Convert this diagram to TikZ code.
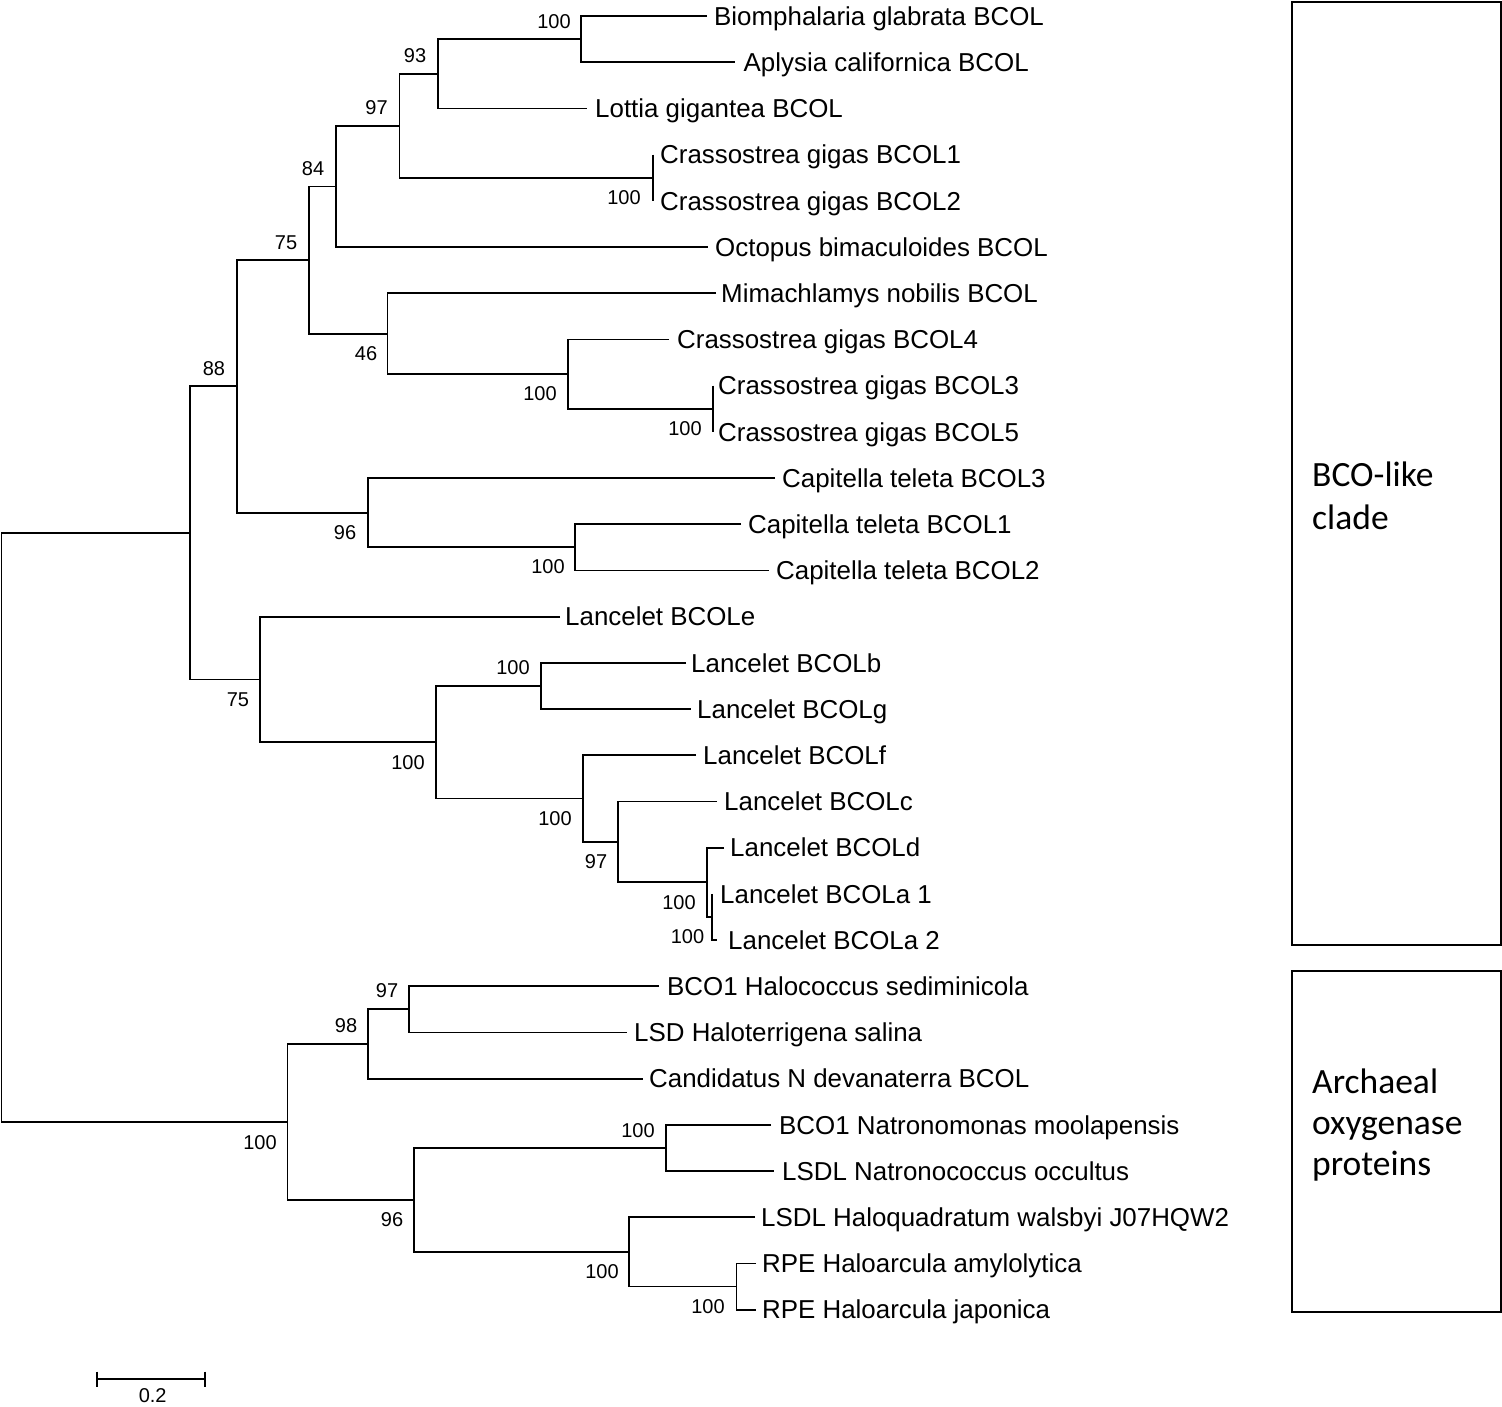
\documentclass[tikz,border=0pt]{standalone}
\usepackage{fontspec}
\setmainfont{Liberation Sans}
\newfontfamily\boxfont{Carlito}
\newcommand\leaffont{\fontsize{25.9}{30}\selectfont}
\newcommand\bsfont{\fontsize{20}{24}\selectfont}
\newcommand\cladefont{\boxfont\fontsize{35.5}{41}\selectfont}
\begin{document}
\begin{tikzpicture}[x=1pt,y=-1pt,
  br/.style={line width=1.8pt, line join=miter},
  leaf/.style={anchor=base west, inner sep=0pt, font=\leaffont},
  bs/.style={anchor=center, inner sep=0pt, font=\bsfont},
  cladebox/.style={draw, line width=2pt, anchor=north west, inner sep=0pt},
  cladetxt/.style={anchor=base west, inner sep=0pt, font=\cladefont}]
\useasboundingbox (0,0) rectangle (1502,1406);
% ---------- leaf tips ----------
\coordinate (t1) at (707,16);
\coordinate (t2) at (735,62.2);
\coordinate (t3) at (587,108.4);
\coordinate (t4) at (653,154.6);
\coordinate (t5) at (653,200.8);
\coordinate (t6) at (708,247);
\coordinate (t7) at (716,293.2);
\coordinate (t8) at (669,339.4);
\coordinate (t9) at (713,385.6);
\coordinate (t10) at (713,431.8);
\coordinate (t11) at (775,478);
\coordinate (t12) at (741,524.2);
\coordinate (t13) at (769,570.4);
\coordinate (t14) at (560,616.6);
\coordinate (t15) at (686,662.8);
\coordinate (t16) at (691,709);
\coordinate (t17) at (696,755.2);
\coordinate (t18) at (717,801.4);
\coordinate (t19) at (724,847.6);
\coordinate (t20) at (712,893.8);
\coordinate (t21) at (717,940);
\coordinate (t22) at (659,986.2);
\coordinate (t23) at (627,1032.4);
\coordinate (t24) at (643,1078.6);
\coordinate (t25) at (771,1124.8);
\coordinate (t26) at (774,1171);
\coordinate (t27) at (755,1217.2);
\coordinate (t28) at (756,1263.4);
\coordinate (t29) at (756,1309.6);
% ---------- internal nodes ----------
\coordinate (n1) at (581,39.1);
\coordinate (n2) at (438,73.75);
\coordinate (n3) at (653,177.7);
\coordinate (n4) at (399.5,125.7);
\coordinate (n5) at (336,186.4);
\coordinate (n6) at (713,408.7);
\coordinate (n7) at (568,374);
\coordinate (n8) at (387.5,333.6);
\coordinate (n9) at (308.6,260);
\coordinate (n10) at (575,547.3);
\coordinate (n11) at (368,512.7);
\coordinate (n12) at (237,386.3);
\coordinate (n13) at (712,916.9);
\coordinate (n14) at (707,882.2);
\coordinate (n15) at (618,841.8);
\coordinate (n16) at (583,798.5);
\coordinate (n17) at (541,685.9);
\coordinate (n18) at (436,742.2);
\coordinate (n19) at (260,679.4);
\coordinate (n20) at (190,532.9);
\coordinate (n21) at (409,1009.3);
\coordinate (n22) at (368,1044);
\coordinate (n23) at (666,1147.9);
\coordinate (n24) at (736.5,1286.5);
\coordinate (n25) at (629,1251.9);
\coordinate (n26) at (414,1199.9);
\coordinate (n27) at (287.5,1122);
\coordinate (root) at (1.5,827.5);
% ---------- branches ----------
\draw[br] (t1) -| (n1) |- (t2);
\draw[br] (n1) -| (n2) |- (t3);
\draw[br] (t4) -| (n3) |- (t5);
\draw[br] (n2) -| (n4) |- (n3);
\draw[br] (n4) -| (n5) |- (t6);
\draw[br] (t9) -| (n6) |- (t10);
\draw[br] (t8) -| (n7) |- (n6);
\draw[br] (t7) -| (n8) |- (n7);
\draw[br] (n5) -| (n9) |- (n8);
\draw[br] (t12) -| (n10) |- (t13);
\draw[br] (t11) -| (n11) |- (n10);
\draw[br] (n9) -| (n12) |- (n11);
\draw[br] (t20) -| (n13) |- (t21);
\draw[br] (t19) -| (n14) |- (n13);
\draw[br] (t18) -| (n15) |- (n14);
\draw[br] (t17) -| (n16) |- (n15);
\draw[br] (t15) -| (n17) |- (t16);
\draw[br] (n17) -| (n18) |- (n16);
\draw[br] (t14) -| (n19) |- (n18);
\draw[br] (n12) -| (n20) |- (n19);
\draw[br] (t22) -| (n21) |- (t23);
\draw[br] (n21) -| (n22) |- (t24);
\draw[br] (t25) -| (n23) |- (t26);
\draw[br] (t28) -| (n24) |- (t29);
\draw[br] (t27) -| (n25) |- (n24);
\draw[br] (n23) -| (n26) |- (n25);
\draw[br] (n22) -| (n27) |- (n26);
\draw[br] (n20) -| (root) |- (n27);
% ---------- leaf labels ----------
\node[leaf] (L1) at (714,25.2) {Biomphalaria glabrata BCOL};
\node[leaf] (L2) at (743.5,71.4) {Aplysia californica BCOL};
\node[leaf] (L3) at (595,117.6) {Lottia gigantea BCOL};
\node[leaf] (L4) at (660,163.8) {Crassostrea gigas BCOL1};
\node[leaf] (L5) at (660,210) {Crassostrea gigas BCOL2};
\node[leaf] (L6) at (715,256.2) {Octopus bimaculoides BCOL};
\node[leaf] (L7) at (721,302.4) {Mimachlamys nobilis BCOL};
\node[leaf] (L8) at (677,348.6) {Crassostrea gigas BCOL4};
\node[leaf] (L9) at (718,394.8) {Crassostrea gigas BCOL3};
\node[leaf] (L10) at (718,441) {Crassostrea gigas BCOL5};
\node[leaf] (L11) at (782,487.2) {Capitella teleta BCOL3};
\node[leaf] (L12) at (748,533.4) {Capitella teleta BCOL1};
\node[leaf] (L13) at (776,579.6) {Capitella teleta BCOL2};
\node[leaf] (L14) at (565,625.8) {Lancelet BCOLe};
\node[leaf] (L15) at (691,672) {Lancelet BCOLb};
\node[leaf] (L16) at (697,718.2) {Lancelet BCOLg};
\node[leaf] (L17) at (703,764.4) {Lancelet BCOLf};
\node[leaf] (L18) at (724,810.6) {Lancelet BCOLc};
\node[leaf] (L19) at (730,856.8) {Lancelet BCOLd};
\node[leaf] (L20) at (720,903) {Lancelet BCOLa 1};
\node[leaf] (L21) at (728,949.2) {Lancelet BCOLa 2};
\node[leaf] (L22) at (667,995.4) {BCO1 Halococcus sediminicola};
\node[leaf] (L23) at (634,1041.6) {LSD Haloterrigena salina};
\node[leaf] (L24) at (649,1087.8) {Candidatus N devanaterra BCOL};
\node[leaf] (L25) at (779,1134) {BCO1 Natronomonas moolapensis};
\node[leaf] (L26) at (782,1180.2) {LSDL Natronococcus occultus};
\node[leaf] (L27) at (761,1226.4) {LSDL Haloquadratum walsbyi J07HQW2};
\node[leaf] (L28) at (762,1272.6) {RPE Haloarcula amylolytica};
\node[leaf] (L29) at (762,1318.8) {RPE Haloarcula japonica};
% ---------- bootstrap values ----------
\node[bs] (b1) at (554,22) {100};
\node[bs] (b2) at (415,56) {93};
\node[bs] (b3) at (376.5,108) {97};
\node[bs] (b4) at (313,169) {84};
\node[bs] (b5) at (624,198) {100};
\node[bs] (b6) at (286,243) {75};
\node[bs] (b7) at (366,354) {46};
\node[bs] (b8) at (540,394) {100};
\node[bs] (b9) at (685,429) {100};
\node[bs] (b10) at (214,369) {88};
\node[bs] (b11) at (345,533) {96};
\node[bs] (b12) at (548,567) {100};
\node[bs] (b13) at (238,700) {75};
\node[bs] (b14) at (513,668) {100};
\node[bs] (b15) at (408,763) {100};
\node[bs] (b16) at (555,819) {100};
\node[bs] (b17) at (596,862) {97};
\node[bs] (b18) at (679,903) {100};
\node[bs] (b19) at (687.5,937) {100};
\node[bs] (b20) at (387,991) {97};
\node[bs] (b21) at (346,1026) {98};
\node[bs] (b22) at (260,1143) {100};
\node[bs] (b23) at (638,1131) {100};
\node[bs] (b24) at (392,1220) {96};
\node[bs] (b25) at (602,1272) {100};
\node[bs] (b26) at (708,1307) {100};
% ---------- scale bar ----------
\coordinate (sbL) at (97.3,1379.3);
\coordinate (sbR) at (205.3,1379.3);
\draw[br] (sbL) -- (sbR);
\draw[br] ([yshift=7.8pt]sbL) -- ([yshift=-7.8pt]sbL);
\draw[br] ([yshift=7.8pt]sbR) -- ([yshift=-7.8pt]sbR);
\node[bs] (sbT) at (152.7,1396) {0.2};
% ---------- clade boxes ----------
\node[cladebox, minimum width=208.7pt, minimum height=942.7pt] (box1) at (1291.3,1) {};
\node[cladebox, minimum width=208.7pt, minimum height=340.4pt] (box2) at (1291.3,970.3) {};
\node[cladetxt] (c1a) at (1312,486) {BCO-like};
\node[cladetxt] (c1b) at (1312,529) {clade};
\node[cladetxt] (c2a) at (1312,1093) {Archaeal};
\node[cladetxt] (c2b) at (1312,1134) {oxygenase};
\node[cladetxt] (c2c) at (1312,1175) {proteins};
\end{tikzpicture}
\end{document}
